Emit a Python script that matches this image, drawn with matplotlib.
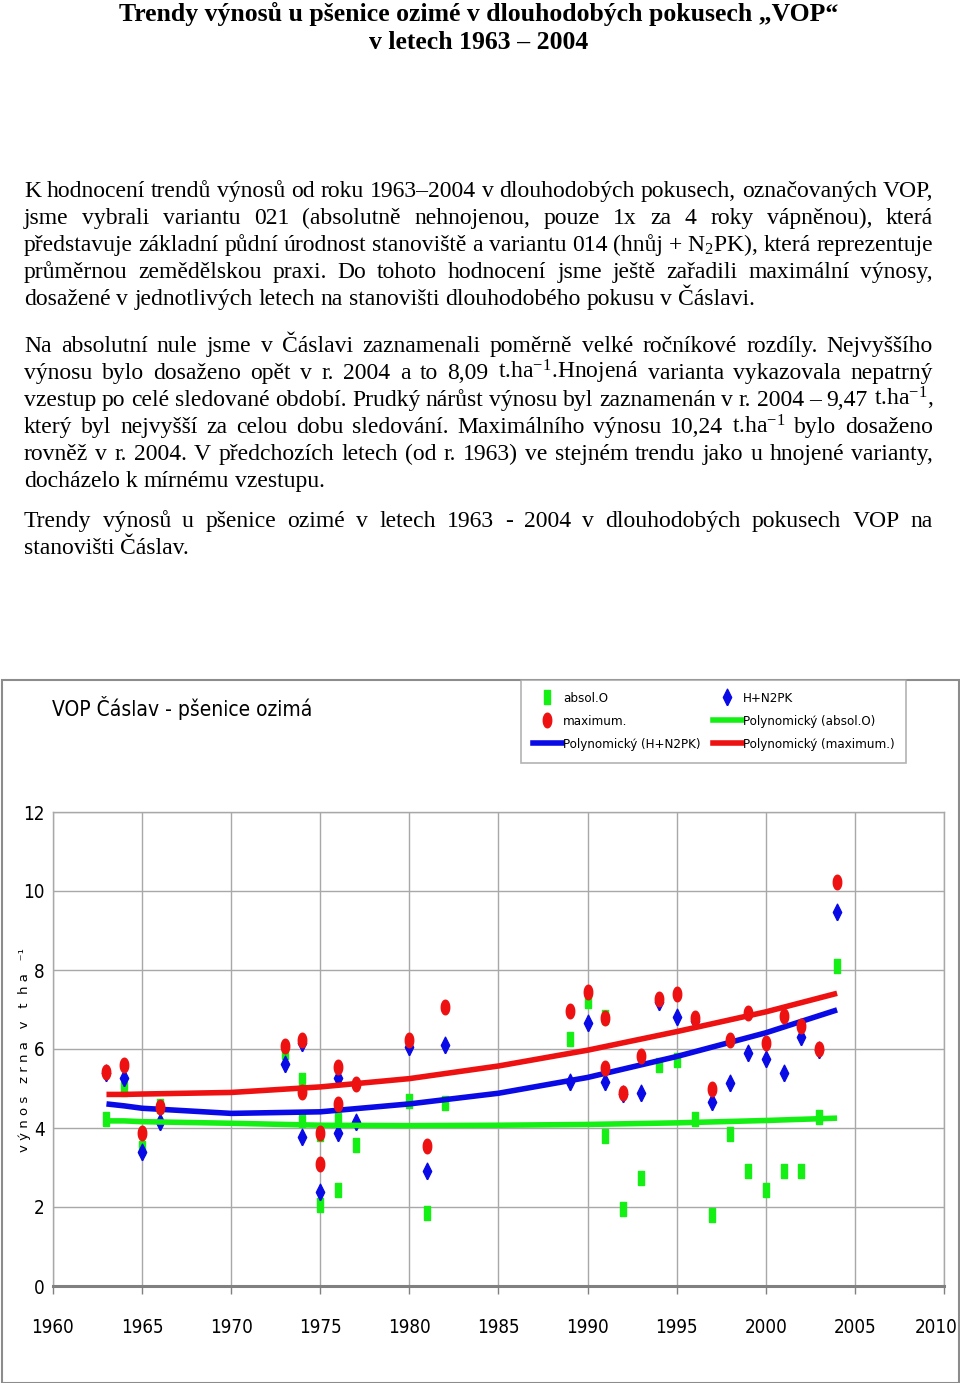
import matplotlib
matplotlib.use('Agg')
import matplotlib.pyplot as plt
from matplotlib.lines import Line2D
from matplotlib.patches import Rectangle
from matplotlib.font_manager import FontProperties
from matplotlib.transforms import ScaledTranslation
import numpy as np

plt.rcParams['mathtext.fontset'] = 'custom'
plt.rcParams['mathtext.rm'] = 'Liberation Serif'
plt.rcParams['mathtext.it'] = 'Liberation Serif:italic'

SERIF = ['Liberation Serif', 'DejaVu Serif']

# ---- data ----
# absol.O (green squares)
abs_years = [1963, 1964, 1965, 1966, 1973, 1974, 1974, 1975, 1975, 1976, 1976, 1977,
             1980, 1981, 1982, 1989, 1990, 1991, 1991, 1992, 1993, 1994, 1995, 1996,
             1997, 1998, 1999, 2000, 2001, 2002, 2003, 2004]
abs_vals = [4.22, 5.00, 3.50, 4.55, 5.93, 5.22, 4.20, 3.85, 2.05, 4.20, 2.43, 3.57,
            4.69, 1.84, 4.64, 6.25, 7.22, 6.80, 3.80, 1.95, 2.73, 5.59, 5.71, 4.22,
            1.80, 3.85, 2.91, 2.43, 2.91, 2.91, 4.29, 8.09]

# H+N2PK (blue diamonds)
hn_years = [1963, 1964, 1965, 1966, 1973, 1974, 1974, 1975, 1976, 1976, 1977,
            1980, 1981, 1982, 1989, 1990, 1991, 1992, 1993, 1994, 1995, 1996,
            1997, 1998, 1999, 2000, 2001, 2002, 2003, 2004]
hn_vals = [5.40, 5.27, 3.40, 4.16, 5.62, 6.14, 3.76, 2.39, 5.26, 3.87, 4.14,
           6.06, 2.92, 6.10, 5.17, 6.65, 5.17, 4.85, 4.89, 7.20, 6.80, 6.70,
           4.65, 5.15, 5.91, 5.74, 5.38, 6.31, 5.98, 9.47]

# maximum. (red ellipses)
max_years = [1963, 1964, 1965, 1966, 1973, 1974, 1974, 1975, 1975, 1976, 1976, 1977,
             1980, 1981, 1982, 1989, 1990, 1991, 1991, 1992, 1993, 1994, 1995, 1996,
             1997, 1998, 1999, 2000, 2001, 2002, 2003, 2004]
max_vals = [5.43, 5.59, 3.87, 4.54, 6.08, 6.24, 4.92, 3.87, 3.08, 5.54, 4.60, 5.11,
            6.24, 3.55, 7.07, 6.96, 7.45, 6.78, 5.51, 4.88, 5.82, 7.26, 7.38, 6.78,
            4.99, 6.23, 6.92, 6.14, 6.84, 6.58, 6.00, 10.24]

# polynomial trend lines
trend_years = [1963, 1964, 1965, 1970, 1975, 1980, 1985, 1990, 1995, 2000, 2004]
trend_abs = [4.18, 4.18, 4.16, 4.12, 4.07, 4.06, 4.07, 4.09, 4.13, 4.19, 4.25]
trend_hn = [4.61, 4.56, 4.50, 4.37, 4.41, 4.61, 4.88, 5.28, 5.81, 6.41, 6.99]
trend_max = [4.85, 4.85, 4.86, 4.90, 5.04, 5.25, 5.57, 5.97, 6.44, 6.94, 7.41]

x_ticks = [1960, 1965, 1970, 1975, 1980, 1985, 1990, 1995, 2000, 2005, 2010]
y_ticks = [0, 2, 4, 6, 8, 10, 12]

GREEN = '#14f014'
BLUE = '#0a0ae6'
RED = '#ee1111'

title_lines = ['Trendy výnosů u pšenice ozimé v dlouhodobých pokusech „VOP“',
               'v letech 1963 – 2004']

par1 = ['K hodnocení trendů výnosů od roku 1963–2004 v dlouhodobých pokusech, označovaných VOP,',
        'jsme vybrali variantu 021 (absolutně nehnojenou, pouze 1x za 4 roky vápněnou), která',
        r'představuje základní půdní úrodnost stanoviště a variantu 014 (hnůj + N$_{\mathrm{2}}$PK), která reprezentuje',
        'průměrnou zemědělskou praxi. Do tohoto hodnocení jsme ještě zařadili maximální výnosy,',
        'dosažené v jednotlivých letech na stanovišti dlouhodobého pokusu v Čáslavi.']
par2 = ['Na absolutní nule jsme v Čáslavi zaznamenali poměrně velké ročníkové rozdíly. Nejvyššího',
        r'výnosu bylo dosaženo opět v r. 2004 a to 8,09 t.ha$^{\mathrm{-1}}$.Hnojená varianta vykazovala nepatrný',
        r'vzestup po celé sledované období. Prudký nárůst výnosu byl zaznamenán v r. 2004 – 9,47 t.ha$^{\mathrm{-1}}$,',
        r'který byl nejvyšší za celou dobu sledování. Maximálního výnosu 10,24 t.ha$^{\mathrm{-1}}$ bylo dosaženo',
        'rovněž v r. 2004. V předchozích letech (od r. 1963) ve stejném trendu jako u hnojené varianty,',
        'docházelo k mírnému vzestupu.']
par3 = ['Trendy výnosů u pšenice ozimé v letech 1963 - 2004 v dlouhodobých pokusech VOP na',
        'stanovišti Čáslav.']

W, H = 960, 1383
fig = plt.figure(figsize=(W / 100, H / 100), dpi=100)
fig.patch.set_facecolor('white')
renderer = fig.canvas.get_renderer()


def narrow(size):
    return FontProperties(family='DejaVu Sans', stretch='condensed', size=size)


def fy(y):
    return 1 - y / H


def width_of(text, size, **kw):
    t = fig.text(0, 0, text, fontsize=size, **kw)
    w = t.get_window_extent(renderer).width
    t.remove()
    return w


# title
tsize = 20 * 718 / width_of(title_lines[0], 20, family=SERIF, weight='bold')
for txt, yb in zip(title_lines, [21, 49]):
    fig.text(479 / W, fy(yb), txt, ha='center', va='baseline', fontsize=tsize,
             family=SERIF, weight='bold')

# body text, justified word by word
LEFT, RIGHT = 24, 933
bsize = 20 * (RIGHT - LEFT) / width_of(par1[0], 20, family=SERIF)
space = width_of('x x', bsize, family=SERIF) - width_of('xx', bsize, family=SERIF)


def put_line(text, yb, justify):
    words = text.split(' ')
    arts = [fig.text(0, fy(yb), w, fontsize=bsize, family=SERIF, va='baseline', ha='left')
            for w in words]
    widths = [a.get_window_extent(renderer).width for a in arts]
    gap = (RIGHT - LEFT - sum(widths)) / (len(words) - 1) if justify else space
    x = LEFT
    for a, w in zip(arts, widths):
        a.set_x(x / W)
        x += w + gap


for par, y0 in [(par1, 197), (par2, 352), (par3, 527)]:
    for i, line in enumerate(par):
        put_line(line, y0 + 27 * i, i < len(par) - 1)

# chart frame
fig.add_artist(Rectangle((1.5 / W, 0.5 / H), (957 / W), (H - 680.5) / H, transform=fig.transFigure,
                         fill=False, edgecolor='#8c8c8c', lw=1.5))

fig.text(52 / W, fy(708), 'VOP Čáslav - pšenice ozimá', va='center', ha='left',
         fontproperties=narrow(15))

# marker shapes
rect = [(-0.5, -1), (0.5, -1), (0.5, 1), (-0.5, 1), (-0.5, -1)]
t = np.linspace(0, 2 * np.pi, 40)
ellipse = list(zip(0.58 * np.cos(t), np.sin(t)))
diamond = [(0, -1), (0.5, 0), (0, 1), (-0.5, 0), (0, -1)]

ax = fig.add_axes([53 / W, fy(1286), (944 - 53) / W, (1286 - 812) / H])
ax.set_xlim(1960, 2010)
ax.set_ylim(0, 12)
ax.set_xticks(x_ticks)
ax.set_yticks(y_ticks)
ax.grid(True, color='#a8a8a8', lw=1)
ax.set_axisbelow(True)
for s in ['left', 'top', 'right']:
    ax.spines[s].set_color('#a8a8a8')
    ax.spines[s].set_linewidth(1)
ax.spines['bottom'].set_color('#808080')
ax.spines['bottom'].set_linewidth(2.2)
ax.tick_params(axis='x', length=6, width=1, color='#808080', direction='out', pad=17)
ax.tick_params(axis='y', length=0, pad=6)
for lab in ax.get_xticklabels() + ax.get_yticklabels():
    lab.set_fontproperties(narrow(13.5))

ax.plot(abs_years, abs_vals, ls='none', marker=rect, ms=9.5, color=GREEN, mec=GREEN, zorder=3)
ax.plot(hn_years, hn_vals, ls='none', marker=diamond, ms=12, color=BLUE, mec=BLUE, zorder=4)
ax.plot(max_years, max_vals, ls='none', marker=ellipse, ms=10.5, color=RED, mec=RED, zorder=5)

ax.plot(trend_years, trend_abs, color=GREEN, lw=4, zorder=4.5, solid_capstyle='butt')
ax.plot(trend_years, trend_hn, color=BLUE, lw=4, zorder=4.5, solid_capstyle='butt')
ax.plot(trend_years, trend_max, color=RED, lw=4, zorder=4.5, solid_capstyle='butt')

# keep the last year label inside the page edge
last = ax.get_xticklabels()[-1]
right = last.get_window_extent(renderer).x1
if right > W - 2:
    shift = (right - (W - 2)) / 100
    last.set_transform(last.get_transform() + ScaledTranslation(-shift, 0, fig.dpi_scale_trans))

fig.text(25 / W, fy(1050), 'v ý n o s   z r n a   v   t  h a   ⁻¹', rotation=90,
         ha='center', va='center', fontsize=9.5, family='DejaVu Sans')

handles = [Line2D([], [], ls='none', marker=rect, ms=9.5, color=GREEN),
           Line2D([], [], ls='none', marker=ellipse, ms=10.5, color=RED),
           Line2D([], [], color=BLUE, lw=4),
           Line2D([], [], ls='none', marker=diamond, ms=12, color=BLUE),
           Line2D([], [], color=GREEN, lw=4),
           Line2D([], [], color=RED, lw=4)]
labels = ['absol.O', 'maximum.', 'Polynomický (H+N2PK)',
          'H+N2PK', 'Polynomický (absol.O)', 'Polynomický (maximum.)']
leg = fig.legend(handles, labels, ncol=2, loc='upper left', bbox_to_anchor=(521 / W, fy(680)),
                 frameon=True, fancybox=False, edgecolor='#a0a0a0', borderaxespad=0,
                 borderpad=0.9, labelspacing=0.75, handlelength=2.2, handletextpad=0.1,
                 columnspacing=0.9, prop=narrow(9.5))
leg.get_frame().set_linewidth(1.2)

fig.savefig('out.png', dpi=100, facecolor='white')
